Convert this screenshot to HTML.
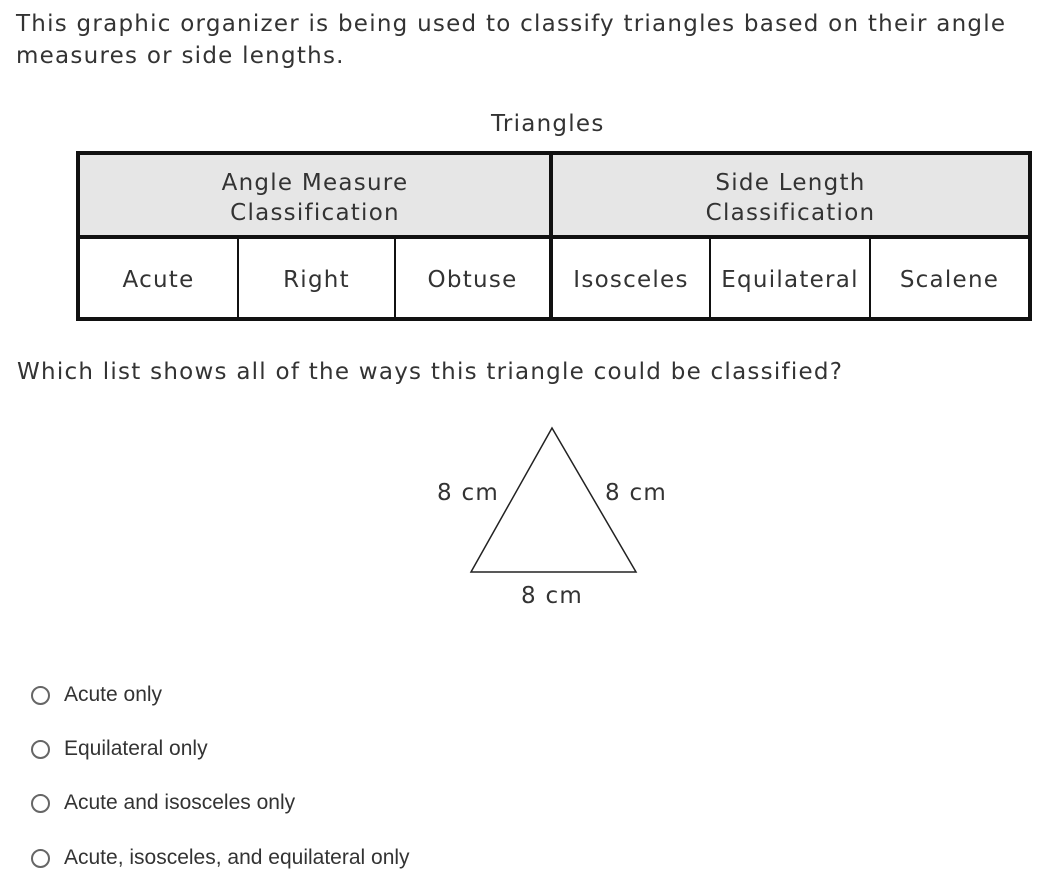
<!DOCTYPE html>
<html><head><style>
body{margin:0;width:1064px;height:881px;background:#fff;position:relative;overflow:hidden;font-family:"DejaVu Sans",Verdana,sans-serif;color:#333}
.a{position:absolute;white-space:nowrap}
.t{font-size:23px;letter-spacing:1.25px}
.c{position:absolute;text-align:center;font-size:23px;color:#333;letter-spacing:1.25px}
.v{position:absolute;background:#111}
.o{position:absolute;left:64px;font-family:"Liberation Sans",Arial,sans-serif;font-size:21px;color:#333}
.r{position:absolute;left:31px;width:15px;height:15px;border:2px solid #666;border-radius:50%}
</style></head><body>
<div class="a t" style="left:16px;top:8px;line-height:32px">This graphic organizer is being used to classify triangles based on their angle<br>measures or side lengths.</div>
<div class="a t" style="left:491px;top:111px">Triangles</div>
<div style="position:absolute;left:78px;top:153px;width:950px;height:84px;background:#e6e6e6"></div>
<div style="position:absolute;left:76px;top:151px;width:948px;height:162px;border:4px solid #111"></div>
<div class="v" style="left:76px;top:235px;width:956px;height:4px"></div>
<div class="v" style="left:549px;top:151px;width:4px;height:169px"></div>
<div class="v" style="left:237px;top:237px;width:2px;height:80px"></div>
<div class="v" style="left:394px;top:237px;width:2px;height:80px"></div>
<div class="v" style="left:709px;top:237px;width:2px;height:80px"></div>
<div class="v" style="left:869px;top:237px;width:2px;height:80px"></div>
<div class="c" style="left:80px;width:470px;top:168px;line-height:30px">Angle Measure<br>Classification</div>
<div class="c" style="left:553px;width:475px;top:168px;line-height:30px">Side Length<br>Classification</div>
<div class="c" style="left:80px;width:157px;top:267px">Acute</div>
<div class="c" style="left:239px;width:155px;top:267px">Right</div>
<div class="c" style="left:396px;width:153px;top:267px">Obtuse</div>
<div class="c" style="left:553px;width:156px;top:267px">Isosceles</div>
<div class="c" style="left:711px;width:158px;top:267px">Equilateral</div>
<div class="c" style="left:871px;width:157px;top:267px">Scalene</div>
<div class="a t" style="left:17px;top:359px">Which list shows all of the ways this triangle could be classified?</div>
<svg style="position:absolute;left:0;top:0" width="1064" height="881"><polygon points="552,428 471,572 636,572" fill="none" stroke="#222" stroke-width="1.5"/></svg>
<div class="a t" style="left:437px;top:480px">8 cm</div>
<div class="a t" style="left:605px;top:480px">8 cm</div>
<div class="a t" style="left:521px;top:583px">8 cm</div>
<div class="r" style="top:686px"></div><div class="o" style="top:683px">Acute only</div>
<div class="r" style="top:740px"></div><div class="o" style="top:737px">Equilateral only</div>
<div class="r" style="top:794px"></div><div class="o" style="top:791px">Acute and isosceles only</div>
<div class="r" style="top:849px"></div><div class="o" style="top:846px">Acute, isosceles, and equilateral only</div>
</body></html>
